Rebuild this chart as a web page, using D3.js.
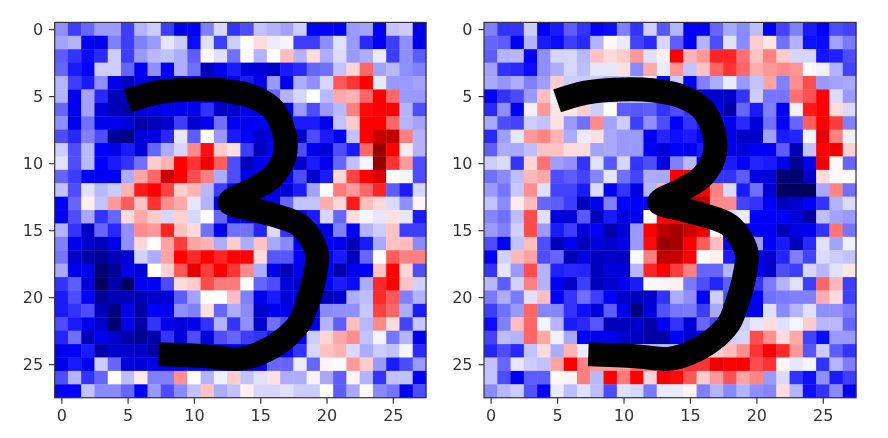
<!DOCTYPE html>
<html><head><meta charset="utf-8">
<script src="https://cdn.jsdelivr.net/npm/d3@7"></script>
<style>html,body{margin:0;background:#fff}svg{display:block;filter:blur(0.45px)}text{font-family:"DejaVu Sans",sans-serif}</style>
</head><body><svg id="c" width="888" height="438"></svg>
<script>
const tickValues=[0,5,10,15,20,25];
const leftGrid=[
[-2.2,-3.8,-3,-2,-2,-3.8,-1.5,-1,-3.8,-5.5,-5,-2.5,-0.8,-4,-3.5,-1.2,-1.5,-1.8,-1,-5,-5,-5.2,-2,-1.8,-5.2,-1.2,-1,-5.5],
[-1.8,-1.5,-5.5,-5.5,-2.5,-3.8,-2.5,-2,-0.5,-1,-4.8,-0.6,-3.8,-1,0,0.7,-0.4,-0.2,-3.8,-3.8,-2.2,-0.6,-2,-4.2,-5.2,-3.8,-2.2,-5.5],
[-3.2,-4,-4.8,-4.2,-1,-3.8,-2,-1.4,-1.2,-1.6,-3.2,0.1,-0.6,-2.8,0.1,-1.5,0,1.3,-1.5,0.7,-1.6,-0.7,-2,-1.6,-0.4,-3.8,-2.2,-3.2],
[-3,-4.5,-5,-1,-1,-3,-5,-2.2,-5,-1.6,-2.8,-7,-5.5,-4.5,-6,-6,-6.5,-4.5,-4.2,-3,-2.8,-1.2,0.8,3,-1.8,-1.4,-2.2,-2.5],
[-1.5,-3.8,-4.5,-2.2,-5.5,-7,-5.5,-6,-5,-5,-5,-6,-6,-5,-4.5,-5.5,-2,-5.5,-1.6,-2.2,-0.8,3.3,4,5,-0.4,-2,-2,-1.8],
[-1.5,-5.5,-1.8,-4.2,-7,-7,-6,-6,-6,-5,-5,-5,-5,-5,-5,-5,-3,-1.5,-0.8,0,-1.4,1.7,1.5,3,5,3,-2,-2],
[-3,-5.5,-1.8,-6,-7,-7.5,-6,-5.8,-5.5,-5.5,-5.5,-4,-6.5,-6.5,-5.5,-5.5,-5,-5.5,-2,-3.5,-2,-1.4,2.5,4.8,5,5,-1.5,-3.5],
[-2.2,-5.5,-2.8,-5.5,-5.5,-6,-7.5,-7,-6.5,-3.8,-6.5,-5.5,-2.8,-5.5,-5.5,-5,-5.5,-5.5,-4.5,-4.5,-5.5,-1.2,1,5,5,3,-1.5,-1.8],
[-3.5,-4.2,-2.5,-3.5,-8,-8.5,-6,-5.8,-4.2,-0.5,-3.2,0,-2,-4.5,-5,-6.5,-5.5,-6,-6.5,-3.5,-4.5,-5.2,-1.2,5,7.2,7.5,2.5,-1.5],
[-1,-3.5,-1.4,-5,-5.5,-4.5,-6,-3,-1.6,-0.8,2.3,4.7,1,0.6,-3.8,-6.8,-5,-5,-3.5,-5.5,-6,-3.5,-4.5,3,9,5,0.4,-1.5],
[-0.6,-3.5,-1.4,-5,-4.5,-4,-2.8,1,1.5,5,4,5.5,3.2,-3.5,-7,-5.5,-5.5,-5.5,-6.5,-4.5,-5.5,-3,-1.2,-0.2,9,4,2,-3.5],
[-3,-3.8,-5.2,-5.5,-5.2,-1.6,1.8,3,7,5,3.5,2.5,-1.6,-3.5,-5.5,-6,-6,-5.5,-3.5,-6.5,-4.5,0.8,3.7,5,6.5,0,-0.2,-3.5],
[-1.2,-3.5,-0.6,-1.4,-1,1.5,4.5,5,3.7,1,1.5,-1.4,-3.8,-5,-5,-5,-6,-6,-4.5,-1.8,0,2.6,2,3,4.3,-3.2,-4.5,-0.8],
[-5,-3,0.3,-1.2,2,3.2,1.2,4,2.2,1.7,-0.5,-1.5,-5.5,-6,-5,-5,-5,-3,-1.2,-1.2,1.6,0.8,4.5,1.3,0.8,-0.7,-2.2,0.2],
[-5.2,-3.5,-1.7,-4,-3,0.7,1.7,1,-0.8,0.9,-0.8,0,-3,-5.5,-5.5,-5.5,-5,-5,-5,-4.5,-0.8,-3,0.7,-0.2,-0.5,0.6,-0.5,-4.5],
[-1.5,-4,-6.5,-3,-4.2,-2.2,2.3,2,4.3,1.2,0.7,-2.8,-5.5,-2.8,-2.8,-4.3,-0.7,-4,-5,-5,-6,-2.5,-5,-1.5,-1,1.2,-3.8,-3.8],
[-2.5,-5.5,-6.5,-7,-5.5,-2.2,0.8,0,1.8,3.8,1.8,1.5,-1.6,1,-1.6,1.2,-1.7,-2.3,-5,-5,-5,-5.5,-7,-4.5,-1.7,1.2,1.3,-2.3],
[-2.7,-6.5,-7.5,-8,-7,-6.2,-0.9,-1.6,1.8,5,4.2,5,4.3,5,5,0.7,-3.3,-3.3,-5,-5,-5,-4.5,-7,-3,0,3.2,2.5,2.5],
[-1.7,-5.5,-5.5,-9,-8,-5.5,-6,0,0.9,3.3,6,3.8,5,4,2.3,-1.6,-5.5,-7,-5.5,-5,-5,-7.5,-5.5,-5,1.2,5,0.8,-3.5],
[-4,-3.2,-6,-9.5,-7.5,-9.5,-5.2,-5.2,-3.5,0.7,1,3.5,2.6,2.6,0,-3,-3.5,-6,-6.5,-5,-5,-4.5,-4.8,-1.6,4.2,5,1.2,-0.9],
[-4.5,-3.5,-5,-8,-7,-7,-7,-6.5,-6,-3.2,-1.8,0,0,1.3,-2.5,-5.5,-4.5,-6,-5.5,-5,-7,-6.5,-1.6,-1.3,4.2,3.3,-2.5,-1.5],
[-4.5,-4,-3.5,-7,-8.5,-5.5,-7.5,-5,-5.5,-2.2,-2.5,0.6,-3,-1.6,-2.3,-6.5,-5.5,-5.5,-5,-5,-2.3,-2.2,-2.2,-1.1,3.7,3,-1.6,-4.5],
[-3.5,-4.5,-5.5,-6.5,-9,-5.5,-7.5,-4,-5.5,-6,-5.5,-4,-1.5,-4,-2.2,-6.5,-2.8,-3.5,-5,-5,-1.5,-3.2,1.3,-1.4,2.3,0.7,-3.7,-1.1],
[-4.3,-2.8,-7,-5.5,-6.5,-7.5,-8,-7.5,-4,-6,-3.5,-6,-3.5,-3,-3.8,-4,-4.5,-5,-5,-1,0.8,1.7,2.2,-1.2,-0.2,-2.7,-1.5,-5.5],
[-5.5,-5,-4.5,-7.5,-6.5,-6.5,-6.5,-7.5,-6,-5,-5,-5,-5,-5,-5,-5,-5,-5,-4,-0.8,1.2,1.5,-0.7,-1.6,-1,-1.2,-0.2,-4.2],
[-5.5,-4.5,-5.5,-1,-3,-6,-6,-5.5,-5.5,-5,-5,-5,-5,-5,-5,-5,-3,-3,-0.4,-3,0.2,-0.1,2,1,-2,-4.5,-3.5,-2],
[-3.5,-1.5,-4,-3,0,-1.3,0.4,-2.5,-2.5,2.2,0,-1.5,-0.3,1,-1.2,-0.6,0.6,-1.6,-1.6,-0.2,-1.7,-3.2,0.2,-1.5,-4,-1.2,-1.2,-5.2],
[-5.5,-5,-1.2,-2.3,-2.3,-3,-5,-2,-3.5,-2.3,-1.2,1.2,-1.6,-1.2,0.3,-0.8,-0.8,-0.6,-1,-1,0,-3.2,-1.7,-0.1,-2.3,-2.7,-5.5,-3.5]
];
const rightGrid=[
[-2.5,-4,-4,-1,-5.2,-4.5,-3.2,-4,-5,-4.8,-2.5,-4,-0.9,-3.3,-1.5,-5,-5,-3,-1.7,-2.3,-1.3,-5.2,-3.7,-2.5,-4.5,-5.2,-3.5,-3.7],
[-3,-3.2,-5.2,-1.5,-4.5,-4.8,-3.8,-4.2,-1.5,0.1,-0.4,-3.7,-4.2,-0.8,-3.2,-5,-1.5,-3.5,-0.6,-2.3,1,0.5,-2.8,-1.5,-4.7,-4.8,-1.8,-2.6],
[-3.2,-1.5,-1.4,-5.2,-2.2,-0.8,-0.8,-1.4,1.2,0.7,1,2,-0.6,0.3,5,1.5,2,4.3,4.3,2.8,1.2,2.5,1,-0.8,-0.8,-4.6,-4.4,-3.5],
[-1.8,-4,-4.2,-4.8,-2.2,-1.6,-0.8,-1.3,-0.5,-0.5,0.6,-2.3,1.7,-0.4,2.1,-1.2,1.2,3,4,3,1.6,2,2.3,2.1,0.1,-0.3,-1.5,-3.7],
[-1.7,-2.1,-1.6,-2.5,-1.9,1,-1,-1,-1,-1.5,-1,-1,-0.5,-5,-1,-5.2,-2.5,-1.6,-0.4,-2,-1.2,1.8,-2.5,2.2,3.5,-2,-1.8,-1.7],
[-5.2,-4,-3.5,-2,1.3,-0.2,-1,-1,-1,-1,-1,-1,-1,-3,-3,-4,-6,-6.5,-6.5,-4,-1,-2.7,-2.7,2.8,3.4,5,-0.7,-2],
[-4.2,-2.2,-5.2,-0.3,2,0.5,0.5,1,-1,0,-3.2,-3.3,-3.2,-4,-3.5,-4,-4.5,-6,-7.5,-3,-4.5,-2.5,-5.2,-0.3,4.5,5,0.7,-0.7],
[-1.7,-3.5,-3.7,-1,-1.2,0.6,-2,-2.8,2.3,-1.8,-1,-3.8,-2.2,-3.5,-5.2,-4,-4.5,-5,-5.5,-4.2,-6,-2.8,-5.2,-3,3.2,5,3.8,-2.5],
[-4.2,-1.9,-0.5,2,2.4,1.5,-1.6,-0.4,0.6,-1.7,-2,-2,-5.2,-4.3,-4.7,-4.5,-5,-5,-5.5,-6.5,-6.5,-1.8,-4.5,-4.3,-0.2,6,2.5,-0.3],
[-3.2,-1.6,-1.7,-1.3,1.2,1.2,0.7,0.7,-1.8,-1.7,-2,-2,-5.2,-6,-5,-5.2,-4.5,-5,-5.5,-6,-5.2,-5.3,-3.2,-7,-1.2,5,5.5,0.9],
[-1,-0.7,-4,0.8,2.8,-1.9,-2.2,-4,-0.6,-3.3,-0.8,-4,-3.5,-6,-2.5,-1.4,-5,-5,-4.5,-5.2,-4.3,-4.5,-5.5,-8,-5.5,5.5,0.1,-3],
[-2.8,-2.3,-1.3,1.4,1.7,-3.5,-3.2,-3.7,-2.4,-0.5,-2.8,-3.7,-1.6,-1.7,5,5.5,5,-4,-4,-3.2,-5.8,-6,-9,-9,-6.5,0.7,-0.1,-0.1],
[-2,-2.7,-1.1,2.2,-0.6,-3.7,-3.7,-4.5,-0.7,-5.2,-4,-5.8,-1.5,1.5,5,5,5,2.5,-0.7,-4.5,-2.8,-6,-9.5,-9.5,-9.8,-1.7,2.4,-2.8],
[-1.2,-2.3,0.4,1.3,-3,-3.2,-3.8,-7,-5.5,-2.5,-5,-5,-5,5,7,8,7.5,2.3,2.3,-3.7,-4,-5.2,-7,-6.5,-5.2,-4,-1.5,-0.7],
[-2.4,-2.8,-1.3,3.5,-0.6,-6,-6,-3.3,-7,-4.5,-6,-5.5,0,5,5,5.5,5.5,0,-0.7,-0.4,-5.2,-5.2,-5.2,-6,-7.5,-1.3,-1.8,-2],
[-2,-2.5,-0.9,3.5,-2,-4.5,-3.8,-6,-5.2,-7.5,-6,-2,5,7.8,8.5,7,5.5,0,-5,-5,-5.2,-5.2,-7,-5.7,-5.5,-4,2.7,-2.7],
[-3.5,-5.3,-1.2,1.3,-3.5,-7,-5.5,-7,-6,-6.5,-5.5,-2,4.8,9,8.5,5.2,3.2,1.3,-5,-5,-2,-5,-4.5,-7,-4.2,-0.6,-1.8,-0.3],
[-5.3,-0.9,1.4,1.8,-3.5,-3,-7,-5.8,-6.8,-6.5,-6.7,0.1,2.5,7.5,7.2,5,0,0.3,-4.5,-5,-5,-6.5,-4.3,-2.5,-3.7,-0.7,-1,-1.2],
[-4,-0.5,-2,3.5,-1.5,-4.4,-4.2,-4.3,-7,-6,-6,-1.4,4.3,5,3.8,2.5,-3,-3,-1.5,-5,-5,-6.5,-3.5,-3.8,-0.8,-1.4,-0.6,0.5],
[-1.4,-3.2,-0.9,2.5,-1.5,-5.2,-6.5,-3.8,-7,-6.5,-5.5,-4.5,0.1,0.2,0.3,-2.6,-3.5,-4.3,-3.2,-5,-4,-2.6,-1.5,-0.6,-3.8,3,1.4,-3.8],
[-2.6,-1.6,-2.6,-0.6,1.3,-5.2,-4,-2.8,-3.8,-5.2,-6.5,-6.8,-6.5,-4,-1.6,-2.2,-5.2,-1,-3.5,-5,-5,-2.8,-2.6,-2.5,-2.5,1.6,0.7,-3.8],
[-3.8,-2.8,-2,3,-2.4,-2.4,-4,-4.7,-6,-3.2,-5.3,-8.5,-6,-3.4,-2.7,-2.6,-3.8,-1.7,-5,-5,-5.5,-0.6,-2.3,-1.5,-0.6,-2.2,-2.2,-2.6],
[-4.8,-2.5,1.3,3,-0.2,-1.5,-4.5,-4.2,-3.3,-7,-7,-6.5,-7.5,-5.2,-4,-6,-3,-3.7,0,-1,-0.5,0.7,-0.6,-0.2,1,-1.4,-1.4,-3],
[-3.7,-1.3,-1.5,3,1.7,-0.3,-1.7,-5,-5.5,-5.5,-6.5,-6.8,-7.5,-7.5,-5.2,-6.5,-5,-3,-1,-0.8,3.5,2.2,0.7,1.7,-3.7,-4.8,-2,-2],
[-4.3,-3.5,-4.2,-1.2,0.7,-1.6,1.5,-0.4,-1,-1,-1,-1,-1.5,-1.5,-1.5,-1,0,1,1.3,2.2,4,5,4.2,2,-3.3,-1,-3.2,-4],
[-1.2,-3,-0.5,-1,-1.2,1.8,5,2.5,2,2,2,3,3,3,4,4,4,5.5,5,5.2,3.5,4,0.2,-0.5,-0.2,-4,-1.5,-2.5],
[-1.2,-3.5,-5.2,-3.2,-3.2,0.1,0.2,2.5,-1.4,5,2.6,5,0.8,5.2,4.8,3.3,1,2,3.4,1.8,2.4,-2,-0.7,-4,-4.7,-2.2,-4.5,-3.8],
[-2.3,-1.4,-1,-3.4,-5.2,-0.4,-1.3,-0.6,-1.3,-3.5,-0.6,-0.8,-2.6,-0.4,-0.4,0.2,-2.5,-1.5,-2.3,-1.5,-2.2,-2.4,0.7,-1.5,-4.7,-4,-2.3,-5.5]
];
const strokeX=[5.0,7.16,9.67,12.18,14.42,15.95,16.83,16.83,15.95,14.42,12.68,14.42,15.97,18.0,19.25,19.1,18.56,17.96,16.7,14.94,13.4,10.9,7.35];
const strokeY=[5.36,4.74,4.5,4.56,5.03,5.98,7.85,9.47,10.97,11.97,12.92,13.46,13.86,14.66,16.6,18.45,20.4,21.9,23.2,24.2,24.6,24.4,24.26];

const color=d3.scaleLinear().domain([-10,-5,0,5,10]).range(["rgb(0,0,77)","#0000ff","#ffffff","#ff0000","rgb(128,0,0)"]);
const svg=d3.select("#c");
const panels=[{g:leftGrid,x0:54.7,x1:426},{g:rightGrid,x0:484,x1:856}];
const top_=22.4,bottom_=397.7;
panels.forEach(p=>{
  const x=d3.scaleLinear().domain([-0.5,27.5]).range([p.x0,p.x1]);
  const y=d3.scaleLinear().domain([-0.5,27.5]).range([top_,bottom_]);
  const g=svg.append("g");
  p.g.forEach((row,r)=>{
    g.selectAll(null).data(row).enter().append("rect")
      .attr("x",(d,c)=>x(c-0.5)).attr("y",y(r-0.5))
      .attr("width",x(1)-x(0)+0.4).attr("height",y(1)-y(0)+0.4)
      .attr("fill",d=>color(d));
  });
  const line=d3.line().x(i=>x(strokeX[i])).y(i=>y(strokeY[i])).curve(d3.curveCatmullRom.alpha(0.5));
  g.append("path").attr("d",line(d3.range(strokeX.length))).attr("fill","none").attr("stroke","#000")
    .attr("stroke-width",24).attr("stroke-linejoin","round").attr("stroke-linecap","butt");
  g.append("rect").attr("x",p.x0).attr("y",top_).attr("width",p.x1-p.x0).attr("height",bottom_-top_)
    .attr("fill","none").attr("stroke","#333").attr("stroke-width",1.2);
  const ax=d3.axisBottom(x).tickValues(tickValues).tickSize(6).tickPadding(6);
  const ay=d3.axisLeft(y).tickValues(tickValues).tickSize(5.5).tickPadding(6);
  [svg.append("g").attr("transform",`translate(0,${bottom_})`).call(ax),
   svg.append("g").attr("transform",`translate(${p.x0},0)`).call(ay)].forEach(a=>{
    a.select(".domain").remove();
    a.selectAll("line").attr("stroke","#333").attr("stroke-width",1.2);
    a.selectAll("text").attr("fill","#333").attr("font-size",16).attr("font-family","DejaVu Sans");
  });
});
</script></body></html>
